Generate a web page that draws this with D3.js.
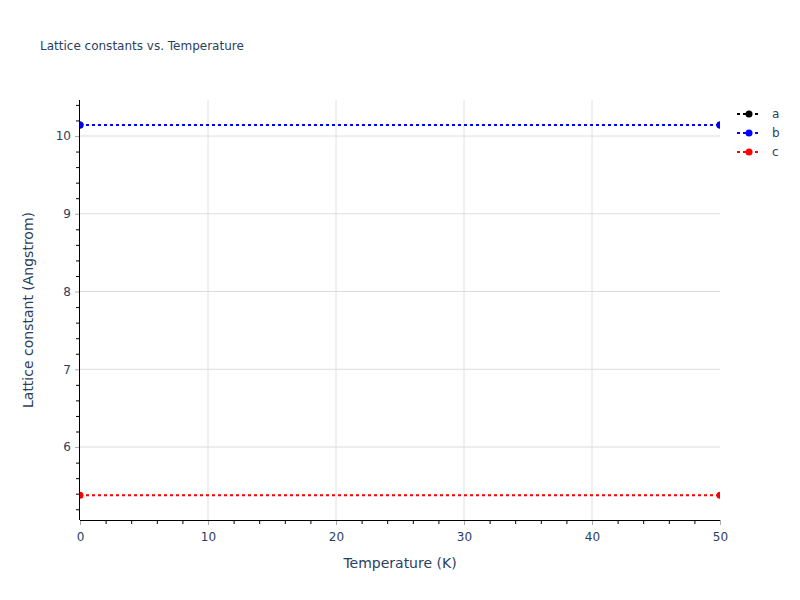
<!DOCTYPE html>
<html>
<head>
<meta charset="utf-8">
<script src="https://cdn.jsdelivr.net/npm/d3@7"></script>
<style>
  body { margin: 0; background: #fff; }
  text { font-family: "DejaVu Sans", verdana, arial, sans-serif; fill: #2a3f5f; }
</style>
</head>
<body>
<svg id="chart" width="800" height="600"></svg>
<script>
// data
var temperatures = [0, 50];
var seriesNames = ["a", "b", "c"];
var seriesColors = ["black", "blue", "red"];
var latticeA = [10.14, 10.14];
var latticeB = [10.14, 10.14];
var latticeC = [5.38, 5.38];
var xTicks = [0, 10, 20, 30, 40, 50];
var yTicks = [6, 7, 8, 9, 10];

var series = [latticeA, latticeB, latticeC];

// layout
var margin = { top: 100, right: 80, bottom: 80, left: 80 },
    width = 800 - margin.left - margin.right,
    height = 600 - margin.top - margin.bottom;

var svg = d3.select("#chart");

var x = d3.scaleLinear()
    .domain([0, 50])
    .range([0, width]);

var y = d3.scaleLinear()
    .domain([5.062, 10.463])
    .range([height, 0]);

var g = svg.append("g")
    .attr("transform", "translate(" + margin.left + "," + margin.top + ")");

// grid
g.selectAll(".xgrid")
    .data(xTicks.slice(1, -1))
    .enter()
    .append("line")
    .attr("x1", function (d) { return x(d); })
    .attr("x2", function (d) { return x(d); })
    .attr("y1", 0)
    .attr("y2", height)
    .attr("stroke", "#e0e0e0")
    .attr("stroke-width", 1);

g.selectAll(".ygrid")
    .data(yTicks)
    .enter()
    .append("line")
    .attr("x1", 0)
    .attr("x2", width)
    .attr("y1", function (d) { return y(d); })
    .attr("y2", function (d) { return y(d); })
    .attr("stroke", "#dcdcdc")
    .attr("stroke-width", 1);

// lines + markers, clipped to plot area
svg.append("defs").append("clipPath")
    .attr("id", "plotclip")
    .append("rect")
    .attr("width", width)
    .attr("height", height);

var plot = g.append("g").attr("clip-path", "url(#plotclip)");

var line = d3.line()
    .x(function (d, i) { return x(temperatures[i]); })
    .y(function (d) { return y(d); });

series.forEach(function (vals, k) {
    plot.append("path")
        .datum(vals)
        .attr("d", line)
        .attr("fill", "none")
        .attr("stroke", seriesColors[k])
        .attr("stroke-width", 2)
        .attr("stroke-dasharray", "3,3");

    plot.selectAll(".pt" + k)
        .data(vals)
        .enter()
        .append("circle")
        .attr("cx", function (d, i) { return x(temperatures[i]); })
        .attr("cy", function (d) { return y(d); })
        .attr("r", 3.5)
        .attr("fill", seriesColors[k]);
});

// axes
var xMinor = d3.range(0, 50.01, 2).filter(function (d) { return d % 10 !== 0; });
var yMinor = d3.range(5.2, 10.41, 0.2).filter(function (d) { return Math.abs(d - Math.round(d)) > 0.01; });

var xAxisMinor = d3.axisBottom(x).tickValues(xMinor).tickSize(4).tickFormat("");
var xAxis = d3.axisBottom(x).tickValues(xTicks).tickSize(5).tickSizeOuter(0);
var yAxisMinor = d3.axisLeft(y).tickValues(yMinor).tickSize(4).tickFormat("");
var yAxis = d3.axisLeft(y).tickValues(yTicks).tickSize(5).tickSizeOuter(0).tickFormat(d3.format("d"));

var gx = g.append("g")
    .attr("transform", "translate(0," + height + ")")
    .call(xAxis);
gx.select(".domain").remove();
gx.selectAll(".tick line").attr("stroke", "#aaa");
gx.selectAll(".tick text")
    .attr("dy", null)
    .attr("y", 21)
    .style("font-size", "12px");

var gxm = g.append("g")
    .attr("transform", "translate(0," + height + ")")
    .call(xAxisMinor);
gxm.select(".domain").remove();
gxm.selectAll(".tick line").attr("stroke", "#000");

var gy = g.append("g").call(yAxis);
gy.select(".domain").remove();
gy.selectAll(".tick line").attr("stroke", "#aaa");
gy.selectAll(".tick text")
    .attr("x", -9)
    .style("font-size", "12px");

var gym = g.append("g").call(yAxisMinor);
gym.select(".domain").remove();
gym.selectAll(".tick line").attr("stroke", "#000");

// axis lines
g.append("line")
    .attr("x1", 0).attr("x2", width)
    .attr("y1", height + 0.5).attr("y2", height + 0.5)
    .attr("stroke", "#000");
g.append("line")
    .attr("x1", -0.5).attr("x2", -0.5)
    .attr("y1", 0).attr("y2", height)
    .attr("stroke", "#000");

// axis titles
svg.append("text")
    .attr("x", margin.left + width / 2)
    .attr("y", 568)
    .attr("text-anchor", "middle")
    .style("font-size", "14px")
    .text("Temperature (K)");

svg.append("text")
    .attr("transform", "translate(33," + (margin.top + height / 2) + ") rotate(-90)")
    .attr("text-anchor", "middle")
    .style("font-size", "14px")
    .text("Lattice constant (Angstrom)");

// title
svg.append("text")
    .attr("x", 40)
    .attr("y", 50)
    .style("font-size", "12px")
    .text("Lattice constants vs. Temperature");

// legend
var legend = svg.append("g")
    .attr("transform", "translate(737,114)");

var item = legend.selectAll(".item")
    .data(seriesNames)
    .enter()
    .append("g")
    .attr("transform", function (d, i) { return "translate(0," + i * 19 + ")"; });

item.append("line")
    .attr("x1", 0).attr("x2", 24)
    .attr("y1", 0).attr("y2", 0)
    .attr("stroke", function (d, i) { return seriesColors[i]; })
    .attr("stroke-width", 2)
    .attr("stroke-dasharray", "3,3");

item.append("circle")
    .attr("cx", 12)
    .attr("cy", 0)
    .attr("r", 3.5)
    .attr("fill", function (d, i) { return seriesColors[i]; });

item.append("text")
    .attr("x", 35)
    .attr("y", 4)
    .style("font-size", "12px")
    .text(function (d) { return d; });
</script>
</body>
</html>
